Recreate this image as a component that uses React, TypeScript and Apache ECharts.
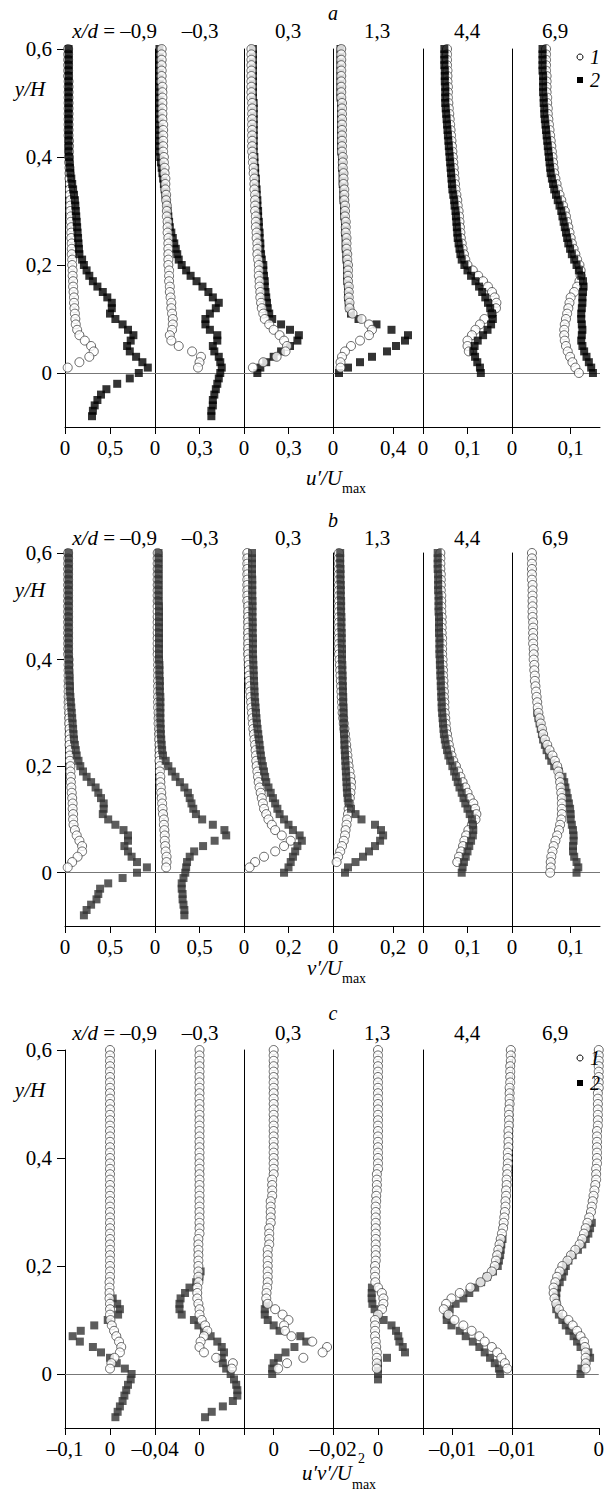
import React, { useEffect, useRef } from 'react';
import * as echarts from 'echarts';

// ---------- measurement levels (y/H), from top to bottom ----------
const Y_LEVELS = [
  0.60, 0.59, 0.58, 0.57, 0.56, 0.55, 0.54, 0.53, 0.52, 0.51,
  0.50, 0.49, 0.48, 0.47, 0.46, 0.45, 0.44, 0.43, 0.42, 0.41,
  0.40, 0.39, 0.38, 0.37, 0.36, 0.35, 0.34, 0.33, 0.32, 0.31,
  0.30, 0.29, 0.28, 0.27, 0.26, 0.25, 0.24, 0.23, 0.22, 0.21,
  0.20, 0.19, 0.18, 0.17, 0.16, 0.15, 0.14, 0.13, 0.12, 0.11,
  0.10, 0.09, 0.08, 0.07, 0.06, 0.05, 0.04, 0.03, 0.02, 0.01,
  0.00, -0.01, -0.02, -0.03, -0.04, -0.05, -0.06, -0.07, -0.08,
];
const Y_TICKS = [0, 0.2, 0.4, 0.6];
const STATIONS = ['–0,9', '–0,3', '0,3', '1,3', '4,4', '6,9'];

// ---------- panel a : u'/Umax ----------
const A1_CIRCLES = [
  0.035, 0.035, 0.035, 0.035, 0.035, 0.035, 0.04, 0.04, 0.04, 0.04,
  0.04, 0.04, 0.04, 0.04, 0.04, 0.04, 0.04, 0.045, 0.045, 0.045,
  0.045, 0.045, 0.05, 0.05, 0.05, 0.055, 0.055, 0.055, 0.06, 0.06,
  0.06, 0.065, 0.065, 0.07, 0.07, 0.07, 0.075, 0.075, 0.075, 0.08,
  0.08, 0.085, 0.085, 0.09, 0.09, 0.095, 0.10, 0.10, 0.105, 0.11,
  0.115, 0.12, 0.135, 0.16, 0.22, 0.29, 0.32, 0.27, 0.16, 0.03];
const A1_SQUARES = [
  0.04, 0.04, 0.04, 0.04, 0.04, 0.04, 0.04, 0.04, 0.04, 0.04,
  0.04, 0.04, 0.04, 0.04, 0.04, 0.04, 0.04, 0.04, 0.04, 0.04,
  0.045, 0.05, 0.055, 0.06, 0.07, 0.08, 0.09, 0.10, 0.11, 0.115,
  0.12, 0.125, 0.13, 0.135, 0.14, 0.145, 0.15, 0.155, 0.16, 0.19,
  0.21, 0.24, 0.27, 0.31, 0.36, 0.42, 0.47, 0.52, 0.52, 0.50,
  0.56, 0.64, 0.70, 0.76, 0.73, 0.69, 0.72, 0.79, 0.86, 0.92,
  0.82, 0.72, 0.58, 0.46, 0.40, 0.36, 0.33, 0.31, 0.30];
const A2_CIRCLES = [
  0.045, 0.045, 0.045, 0.045, 0.045, 0.045, 0.045, 0.05, 0.05, 0.05,
  0.05, 0.05, 0.05, 0.05, 0.055, 0.055, 0.055, 0.055, 0.055, 0.055,
  0.06, 0.06, 0.065, 0.065, 0.07, 0.07, 0.07, 0.075, 0.075, 0.08,
  0.08, 0.08, 0.085, 0.085, 0.085, 0.09, 0.09, 0.09, 0.09, 0.09,
  0.09, 0.095, 0.095, 0.095, 0.10, 0.10, 0.105, 0.11, 0.11, 0.115,
  0.12, 0.12, 0.115, 0.10, 0.11, 0.16, 0.25, 0.31, 0.30, 0.29];
const A2_SQUARES = [
  0.03, 0.03, 0.03, 0.03, 0.03, 0.03, 0.03, 0.03, 0.03, 0.03,
  0.03, 0.03, 0.03, 0.03, 0.03, 0.03, 0.03, 0.03, 0.03, 0.03,
  0.035, 0.04, 0.045, 0.05, 0.055, 0.06, 0.065, 0.07, 0.075, 0.08,
  0.085, 0.09, 0.095, 0.10, 0.11, 0.12, 0.13, 0.14, 0.15, 0.16,
  0.18, 0.21, 0.24, 0.28, 0.32, 0.36, 0.39, 0.43, 0.41, 0.37,
  0.34, 0.34, 0.37, 0.42, 0.42, 0.39, 0.40, 0.43, 0.44, 0.45,
  0.44, 0.43, 0.42, 0.41, 0.40, 0.39, 0.39, 0.38, 0.38];
const A3_CIRCLES = [
  0.05, 0.05, 0.05, 0.05, 0.05, 0.05, 0.05, 0.05, 0.05, 0.05,
  0.055, 0.055, 0.055, 0.055, 0.055, 0.055, 0.055, 0.055, 0.055, 0.055,
  0.06, 0.06, 0.065, 0.065, 0.07, 0.07, 0.07, 0.075, 0.075, 0.075,
  0.075, 0.08, 0.08, 0.08, 0.085, 0.085, 0.09, 0.09, 0.09, 0.095,
  0.10, 0.10, 0.10, 0.105, 0.105, 0.11, 0.11, 0.115, 0.12, 0.13,
  0.14, 0.17, 0.20, 0.24, 0.27, 0.29, 0.28, 0.22, 0.13, 0.06];
const A3_SQUARES = [
  0.06, 0.06, 0.06, 0.06, 0.06, 0.06, 0.06, 0.06, 0.06, 0.06,
  0.065, 0.065, 0.065, 0.065, 0.065, 0.065, 0.065, 0.065, 0.065, 0.065,
  0.07, 0.07, 0.075, 0.075, 0.08, 0.08, 0.085, 0.085, 0.09, 0.09,
  0.095, 0.095, 0.10, 0.10, 0.105, 0.105, 0.11, 0.11, 0.115, 0.12,
  0.13, 0.13, 0.135, 0.14, 0.14, 0.145, 0.15, 0.155, 0.16, 0.17,
  0.19, 0.25, 0.31, 0.37, 0.36, 0.31, 0.25, 0.20, 0.15, 0.11,
  0.09];
const A4_CIRCLES = [
  0.055, 0.055, 0.055, 0.055, 0.055, 0.055, 0.055, 0.055, 0.055, 0.055,
  0.06, 0.06, 0.06, 0.06, 0.06, 0.06, 0.06, 0.06, 0.06, 0.06,
  0.065, 0.065, 0.065, 0.07, 0.07, 0.07, 0.075, 0.075, 0.075, 0.08,
  0.08, 0.08, 0.085, 0.085, 0.085, 0.09, 0.09, 0.09, 0.095, 0.095,
  0.10, 0.10, 0.10, 0.10, 0.105, 0.105, 0.105, 0.11, 0.11, 0.13,
  0.19, 0.24, 0.26, 0.24, 0.18, 0.12, 0.08, 0.06, 0.05, 0.05];
const A4_SQUARES = [
  0.05, 0.05, 0.05, 0.05, 0.05, 0.05, 0.05, 0.05, 0.05, 0.05,
  0.055, 0.055, 0.055, 0.055, 0.055, 0.055, 0.055, 0.055, 0.055, 0.055,
  0.06, 0.06, 0.06, 0.065, 0.065, 0.065, 0.07, 0.07, 0.07, 0.075,
  0.075, 0.075, 0.08, 0.08, 0.08, 0.085, 0.085, 0.085, 0.09, 0.09,
  0.095, 0.095, 0.095, 0.095, 0.10, 0.10, 0.10, 0.105, 0.11, 0.12,
  0.17, 0.29, 0.39, 0.50, 0.48, 0.42, 0.36, 0.26, 0.18, 0.10,
  0.04];
const A5_CIRCLES = [
  0.054, 0.054, 0.054, 0.054, 0.055, 0.055, 0.055, 0.056, 0.056, 0.056,
  0.057, 0.058, 0.059, 0.06, 0.061, 0.062, 0.063, 0.064, 0.065, 0.066,
  0.067, 0.068, 0.069, 0.07, 0.071, 0.072, 0.073, 0.075, 0.077, 0.078,
  0.08, 0.081, 0.082, 0.083, 0.084, 0.085, 0.087, 0.089, 0.092, 0.095,
  0.10, 0.112, 0.124, 0.135, 0.146, 0.155, 0.161, 0.165, 0.164, 0.155,
  0.138, 0.128, 0.118, 0.11, 0.10, 0.10, 0.103];
const A5_SQUARES = [
  0.048, 0.048, 0.048, 0.048, 0.049, 0.049, 0.049, 0.05, 0.05, 0.05,
  0.05, 0.051, 0.052, 0.053, 0.054, 0.055, 0.056, 0.057, 0.058, 0.059,
  0.06, 0.061, 0.062, 0.063, 0.064, 0.065, 0.066, 0.068, 0.07, 0.071,
  0.073, 0.074, 0.075, 0.076, 0.077, 0.078, 0.08, 0.082, 0.084, 0.087,
  0.093, 0.10, 0.108, 0.118, 0.126, 0.133, 0.14, 0.146, 0.151, 0.155,
  0.157, 0.153, 0.145, 0.135, 0.123, 0.116, 0.113, 0.117, 0.122, 0.128,
  0.13];
const A6_CIRCLES = [
  0.058, 0.058, 0.058, 0.058, 0.058, 0.059, 0.059, 0.059, 0.059, 0.06,
  0.06, 0.061, 0.061, 0.062, 0.063, 0.064, 0.065, 0.066, 0.067, 0.068,
  0.069, 0.07, 0.071, 0.072, 0.074, 0.076, 0.078, 0.081, 0.084, 0.087,
  0.09, 0.092, 0.094, 0.096, 0.098, 0.10, 0.102, 0.105, 0.108, 0.111,
  0.115, 0.117, 0.117, 0.115, 0.111, 0.106, 0.10, 0.098, 0.096, 0.094,
  0.092, 0.09, 0.089, 0.089, 0.09, 0.092, 0.095, 0.099, 0.103, 0.108,
  0.114];
const A6_SQUARES = [
  0.052, 0.052, 0.052, 0.052, 0.052, 0.053, 0.053, 0.053, 0.053, 0.054,
  0.054, 0.055, 0.055, 0.056, 0.057, 0.058, 0.059, 0.06, 0.061, 0.062,
  0.063, 0.064, 0.065, 0.066, 0.068, 0.07, 0.072, 0.075, 0.078, 0.081,
  0.084, 0.086, 0.088, 0.09, 0.092, 0.094, 0.096, 0.099, 0.102, 0.106,
  0.11, 0.114, 0.118, 0.121, 0.122, 0.121, 0.12, 0.12, 0.119, 0.118,
  0.118, 0.119, 0.12, 0.119, 0.118, 0.12, 0.123, 0.127, 0.131, 0.135,
  0.138];

// ---------- panel b : v'/Umax ----------
const B1_CIRCLES = [
  0.035, 0.035, 0.035, 0.035, 0.035, 0.035, 0.035, 0.035, 0.035, 0.035,
  0.035, 0.035, 0.035, 0.035, 0.035, 0.035, 0.035, 0.035, 0.035, 0.035,
  0.04, 0.04, 0.04, 0.04, 0.04, 0.04, 0.04, 0.04, 0.04, 0.04,
  0.045, 0.045, 0.045, 0.05, 0.05, 0.05, 0.05, 0.055, 0.055, 0.055,
  0.06, 0.06, 0.065, 0.065, 0.07, 0.075, 0.08, 0.085, 0.085, 0.09,
  0.09, 0.095, 0.11, 0.13, 0.16, 0.19, 0.19, 0.14, 0.08, 0.03];
const B1_SQUARES = [
  0.04, 0.04, 0.04, 0.04, 0.04, 0.04, 0.04, 0.04, 0.04, 0.04,
  0.04, 0.04, 0.04, 0.04, 0.04, 0.04, 0.04, 0.04, 0.04, 0.04,
  0.045, 0.045, 0.045, 0.05, 0.05, 0.055, 0.055, 0.06, 0.065, 0.07,
  0.075, 0.08, 0.085, 0.09, 0.095, 0.10, 0.11, 0.12, 0.13, 0.15,
  0.17, 0.20, 0.24, 0.29, 0.34, 0.37, 0.40, 0.43, 0.43, 0.42,
  0.48, 0.56, 0.65, 0.70, 0.70, 0.66, 0.70, 0.74, 0.80, 0.91,
  0.80, 0.64, 0.48, 0.39, 0.37, 0.35, 0.29, 0.24, 0.21];
const B2_CIRCLES = [
  0.03, 0.03, 0.03, 0.03, 0.03, 0.03, 0.03, 0.03, 0.03, 0.03,
  0.03, 0.03, 0.03, 0.03, 0.03, 0.03, 0.03, 0.03, 0.03, 0.03,
  0.035, 0.035, 0.035, 0.035, 0.035, 0.035, 0.035, 0.035, 0.035, 0.035,
  0.04, 0.04, 0.04, 0.045, 0.045, 0.045, 0.05, 0.05, 0.05, 0.05,
  0.055, 0.055, 0.06, 0.06, 0.065, 0.07, 0.075, 0.08, 0.085, 0.09,
  0.10, 0.10, 0.105, 0.11, 0.11, 0.115, 0.12, 0.13, 0.13, 0.125];
const B2_SQUARES = [
  0.04, 0.04, 0.04, 0.04, 0.04, 0.04, 0.04, 0.04, 0.04, 0.04,
  0.045, 0.045, 0.045, 0.045, 0.045, 0.045, 0.045, 0.045, 0.045, 0.045,
  0.045, 0.05, 0.05, 0.05, 0.055, 0.055, 0.055, 0.06, 0.06, 0.06,
  0.06, 0.06, 0.062, 0.064, 0.066, 0.07, 0.075, 0.08, 0.09, 0.12,
  0.15, 0.19, 0.23, 0.28, 0.33, 0.37, 0.39, 0.41, 0.43, 0.46,
  0.53, 0.65, 0.78, 0.80, 0.67, 0.54, 0.44, 0.39, 0.36, 0.35,
  0.34, 0.32, 0.30, 0.30, 0.31, 0.31, 0.32, 0.33, 0.33];
const B3_CIRCLES = [
  0.015, 0.015, 0.015, 0.015, 0.015, 0.015, 0.015, 0.015, 0.015, 0.015,
  0.018, 0.018, 0.018, 0.018, 0.018, 0.018, 0.018, 0.018, 0.018, 0.018,
  0.02, 0.021, 0.022, 0.023, 0.024, 0.026, 0.028, 0.03, 0.032, 0.034,
  0.036, 0.038, 0.04, 0.042, 0.045, 0.047, 0.05, 0.052, 0.054, 0.055,
  0.057, 0.06, 0.063, 0.066, 0.07, 0.075, 0.08, 0.085, 0.09, 0.10,
  0.11, 0.125, 0.14, 0.17, 0.21, 0.18, 0.14, 0.09, 0.05, 0.025];
const B3_SQUARES = [
  0.036, 0.036, 0.036, 0.036, 0.036, 0.037, 0.037, 0.037, 0.037, 0.038,
  0.038, 0.038, 0.038, 0.039, 0.039, 0.039, 0.04, 0.04, 0.04, 0.04,
  0.041, 0.042, 0.043, 0.044, 0.045, 0.046, 0.047, 0.048, 0.05, 0.052,
  0.054, 0.056, 0.058, 0.061, 0.064, 0.067, 0.07, 0.073, 0.076, 0.08,
  0.085, 0.09, 0.095, 0.10, 0.11, 0.12, 0.13, 0.14, 0.15, 0.16,
  0.18, 0.20, 0.22, 0.25, 0.26, 0.24, 0.23, 0.22, 0.21, 0.20,
  0.18];
const B4_CIRCLES = [
  0.02, 0.02, 0.02, 0.02, 0.02, 0.02, 0.02, 0.02, 0.02, 0.02,
  0.02, 0.02, 0.02, 0.02, 0.02, 0.02, 0.02, 0.02, 0.02, 0.02,
  0.022, 0.023, 0.024, 0.025, 0.026, 0.027, 0.028, 0.029, 0.03, 0.031,
  0.032, 0.034, 0.036, 0.038, 0.04, 0.042, 0.044, 0.046, 0.048, 0.05,
  0.052, 0.055, 0.058, 0.06, 0.06, 0.058, 0.056, 0.054, 0.052, 0.05,
  0.047, 0.045, 0.042, 0.04, 0.036, 0.03, 0.024, 0.017, 0.012];
const B4_SQUARES = [
  0.024, 0.024, 0.024, 0.025, 0.025, 0.025, 0.026, 0.026, 0.026, 0.027,
  0.027, 0.027, 0.028, 0.028, 0.028, 0.029, 0.029, 0.029, 0.03, 0.03,
  0.03, 0.031, 0.031, 0.032, 0.032, 0.033, 0.033, 0.034, 0.034, 0.035,
  0.035, 0.035, 0.036, 0.036, 0.037, 0.038, 0.038, 0.039, 0.04, 0.041,
  0.042, 0.043, 0.044, 0.045, 0.046, 0.047, 0.049, 0.053, 0.06, 0.075,
  0.095, 0.14, 0.16, 0.167, 0.157, 0.14, 0.12, 0.10, 0.075, 0.05,
  0.04];
const B5_CIRCLES = [
  0.039, 0.039, 0.039, 0.039, 0.04, 0.04, 0.04, 0.04, 0.041, 0.041,
  0.041, 0.041, 0.042, 0.042, 0.042, 0.042, 0.043, 0.043, 0.043, 0.043,
  0.044, 0.044, 0.045, 0.045, 0.046, 0.046, 0.047, 0.047, 0.048, 0.048,
  0.049, 0.05, 0.051, 0.052, 0.054, 0.056, 0.058, 0.061, 0.064, 0.068,
  0.074, 0.079, 0.084, 0.089, 0.095, 0.10, 0.105, 0.113, 0.117, 0.12,
  0.118, 0.11, 0.102, 0.097, 0.093, 0.09, 0.086, 0.081, 0.077];
const B5_SQUARES = [
  0.033, 0.033, 0.033, 0.033, 0.034, 0.034, 0.034, 0.034, 0.035, 0.035,
  0.035, 0.035, 0.036, 0.036, 0.036, 0.036, 0.037, 0.037, 0.037, 0.037,
  0.038, 0.038, 0.039, 0.039, 0.04, 0.04, 0.041, 0.041, 0.042, 0.042,
  0.043, 0.044, 0.045, 0.046, 0.047, 0.049, 0.051, 0.054, 0.057, 0.061,
  0.066, 0.07, 0.074, 0.078, 0.082, 0.087, 0.091, 0.095, 0.10, 0.105,
  0.11, 0.112, 0.113, 0.112, 0.108, 0.104, 0.10, 0.096, 0.092, 0.089,
  0.087];
const B6_CIRCLES = [
  0.034, 0.034, 0.034, 0.034, 0.034, 0.034, 0.035, 0.035, 0.035, 0.035,
  0.035, 0.035, 0.035, 0.036, 0.036, 0.036, 0.036, 0.036, 0.037, 0.037,
  0.037, 0.038, 0.038, 0.039, 0.039, 0.04, 0.041, 0.042, 0.043, 0.044,
  0.045, 0.047, 0.049, 0.051, 0.053, 0.056, 0.06, 0.064, 0.069, 0.073,
  0.077, 0.079, 0.081, 0.082, 0.083, 0.084, 0.085, 0.085, 0.085, 0.085,
  0.084, 0.082, 0.08, 0.077, 0.074, 0.071, 0.069, 0.067, 0.066, 0.066,
  0.065];
const B6_SQUARES_TOP = 0.30;
const B6_SQUARES = [
  0.043, 0.045, 0.047, 0.049, 0.051, 0.053, 0.056, 0.059, 0.063, 0.067,
  0.072, 0.08, 0.086, 0.089, 0.091, 0.093, 0.095, 0.097, 0.099, 0.10,
  0.10, 0.102, 0.104, 0.105, 0.105, 0.104, 0.104, 0.106, 0.11, 0.113,
  0.11];

// ---------- panel c : u'v'/Umax^2 ----------
const C1_CIRCLES = [
  0, 0, 0, 0, 0, 0, 0, 0, 0, 0,
  0, 0, 0, 0, 0, 0, 0, 0, 0, 0,
  0, 0, 0, 0, 0, 0, 0, 0, 0, 0,
  0, 0, 0, 0, 0, 0, 0, 0, 0, 0,
  0, 0, 0, -0.001, -0.001, -0.001, -0.001, 0, 0, 0,
  0.001, 0.004, 0.009, 0.014, 0.02, 0.025, 0.022, 0.01, 0.003, 0.0];
const C1_SQUARES_TOP = 0.14;
const C1_SQUARES = [
  0.006, 0.016, 0.022, 0.018, -0.005, -0.035, -0.065, -0.083, -0.067, -0.038,
  -0.02, 0.0, 0.015, 0.033, 0.048, 0.046, 0.04, 0.036, 0.032, 0.028,
  0.022, 0.017, 0.012];
const C2_CIRCLES = [
  0, 0, 0, 0, 0, 0, 0, 0, 0, 0,
  0, 0, 0, 0, 0, 0, 0, 0, 0, 0,
  0, 0, 0, 0, 0, 0, 0, 0, 0, 0,
  0, 0, 0, 0, 0, -0.001, -0.001, -0.001, -0.001, -0.001,
  -0.001, -0.001, -0.001, -0.001, -0.002, -0.002, -0.002, -0.001, 0.0, 0.0,
  0.002, 0.005, 0.007, 0.004, 0.001, 0.0, 0.004, 0.015, 0.03, 0.029];
const C2_SQUARES_TOP = 0.19;
const C2_SQUARES = [
  0.001, 0.0, -0.003, -0.009, -0.013, -0.017, -0.018, -0.018, -0.016, -0.005,
  -0.001, 0.004, 0.01, 0.016, 0.02, 0.022, 0.02, 0.021, 0.024, 0.028,
  0.031, 0.033, 0.034, 0.034, 0.03, 0.021, 0.011, 0.005];
const C3_CIRCLES = [
  0, 0, 0, 0, 0, 0, 0, 0, 0, 0,
  0, 0, 0, 0, 0, 0, 0, 0, 0, 0,
  0, 0, 0, 0, -0.0005, -0.0005, -0.0005, -0.0005, -0.001, -0.001,
  -0.001, -0.001, -0.001, -0.0015, -0.0015, -0.0015, -0.0015, -0.002, -0.002, -0.002,
  -0.002, -0.002, -0.002, -0.002, -0.0022, -0.0024, -0.0025, -0.002, 0.0005, 0.003,
  0.005, 0.0035, 0.0038, 0.006, 0.013, 0.018, 0.0165, 0.01, 0.0045, 0.0015];
const C3_SQUARES_TOP = 0.13;
const C3_SQUARES = [
  -0.0025, -0.003, -0.003, -0.002, 0.0, 0.002, 0.009, 0.011, 0.007, 0.004,
  0.0015, 0.0, -0.0005, -0.0005];
const C4_CIRCLES = [
  0, 0, 0, 0, 0, 0, 0, 0, 0, 0,
  0, 0, 0, 0, 0, 0, 0, 0, 0, 0,
  0, 0, 0, -0.0005, -0.0005, -0.0005, -0.0005, -0.0008, -0.0008, -0.001,
  -0.001, -0.001, -0.001, -0.001, -0.001, -0.001, -0.001, -0.001, -0.001, -0.001,
  -0.0013, -0.0013, -0.0013, -0.0012, 0.0, 0.0017, 0.0024, 0.0024, 0.0018, 0.0,
  -0.0013, -0.0013, -0.0013, -0.0013, -0.001, -0.0008, -0.0005, -0.0005, -0.0005, -0.0005];
const C4_SQUARES_TOP = 0.16;
const C4_SQUARES = [
  -0.0027, -0.0028, -0.0028, -0.0025, -0.0015, 0.0, 0.0025, 0.006, 0.008, 0.009,
  0.0095, 0.011, 0.012, 0.004, 0.0, 0.0, 0.0, 0.0];
const C5_CIRCLES = [
  -0.0002, -0.0002, -0.0002, -0.0003, -0.0003, -0.0003, -0.0003, -0.0004, -0.0004, -0.0004,
  -0.0004, -0.0005, -0.0005, -0.0005, -0.0005, -0.0006, -0.0006, -0.0006, -0.0006, -0.0007,
  -0.0007, -0.0007, -0.0008, -0.0008, -0.0009, -0.0009, -0.001, -0.001, -0.0011, -0.0011,
  -0.0012, -0.0013, -0.0014, -0.0015, -0.0017, -0.0019, -0.0021, -0.0023, -0.0025, -0.0027,
  -0.0029, -0.0034, -0.0042, -0.0053, -0.007, -0.0088, -0.0102, -0.0111, -0.0115, -0.0107,
  -0.0097, -0.0082, -0.0068, -0.0055, -0.0046, -0.0034, -0.0025, -0.0018, -0.0012, -0.0008];
const C5_SQUARES_TOP = 0.25;
const C5_SQUARES = [
  -0.0016, -0.0018, -0.0019, -0.002, -0.0022, -0.0024, -0.0032, -0.0042, -0.0052, -0.0062,
  -0.0072, -0.0082, -0.0095, -0.0105, -0.011, -0.011, -0.0102, -0.0088, -0.0078, -0.0066,
  -0.0055, -0.0046, -0.0037, -0.0029, -0.0022, -0.002];
const C6_CIRCLES = [
  0, 0, 0, 0, 0, 0, 0, 0, -0.0001, -0.0001,
  -0.0001, -0.0001, -0.0001, -0.0001, -0.0001, -0.0002, -0.0002, -0.0002, -0.0002, -0.0002,
  -0.0002, -0.0002, -0.0003, -0.0003, -0.0003, -0.0004, -0.0005, -0.0006, -0.0007, -0.0008,
  -0.0009, -0.0011, -0.0013, -0.0015, -0.0017, -0.0019, -0.0022, -0.0027, -0.0032, -0.0036,
  -0.0042, -0.0045, -0.0048, -0.005, -0.0052, -0.0052, -0.0051, -0.0049, -0.0046, -0.0042,
  -0.0035, -0.003, -0.0025, -0.0021, -0.0017, -0.0016, -0.0015, -0.0015, -0.0015, -0.0015];
const C6_SQUARES_TOP = 0.28;
const C6_SQUARES = [
  -0.0008, -0.001, -0.0012, -0.0015, -0.0019, -0.0024, -0.003, -0.0035, -0.0038, -0.004,
  -0.0042, -0.0045, -0.0048, -0.0049, -0.0049, -0.0049, -0.0049, -0.0046, -0.0042, -0.0038,
  -0.0034, -0.0029, -0.0025, -0.0021, -0.0012, -0.001, -0.0015, -0.002, -0.0021];

// ---------- axis ranges & ticks per column ----------
const A_RANGES = [[0, 1], [0, 0.6], [0, 0.6], [0, 0.6], [0, 0.2], [0, 0.15]];
const A_TICKS = [[0, 0.5], [0, 0.3], [0, 0.3], [0, 0.4], [0, 0.1], [0, 0.1]];
const B_RANGES = [[0, 1], [0, 1], [0, 0.4], [0, 0.3], [0, 0.2], [0, 0.15]];
const B_TICKS = [[0, 0.5], [0, 0.5], [0, 0.2], [0, 0.2], [0, 0.1], [0, 0.1]];
const C_RANGES = [[-0.1, 0.1], [-0.04, 0.04], [-0.01, 0.02], [-0.02, 0.02], [-0.015, 0], [-0.01, 0]];
const C_TICKS = [[-0.1, 0], [-0.04, 0], [-0.01, 0], [-0.02, 0], [-0.015, -0.01], [-0.01, 0]];
const C_LABELS = [[-0.1, 0], [-0.04, 0], [0], [-0.02, 0], [-0.01], [-0.01, 0]];

// ---------- layout ----------
const SERIF = 'Liberation Serif, Times New Roman, serif';
const COL_LEFTS = [65, 155, 244, 333, 423, 512];
const COL_RIGHT = 600;
const PANEL_TOPS = [49, 553, 1050];
const PANEL_BOTTOMS = [427, 926, 1428];

function profile(values: number[], top: number) {
  const start = Y_LEVELS.findIndex((y) => Math.abs(y - top) < 1e-9);
  return values.map((x, i) => [x, Y_LEVELS[start + i]]);
}

function fmt(v: number) {
  const r = Math.round(Number(v) * 10000) / 10000;
  const s = String(Math.abs(r)).replace('.', ',');
  return (r < 0 ? '–' : '') + s;
}

function buildOption() {
  const panels = [
    {
      ranges: A_RANGES, ticks: A_TICKS, labels: A_TICKS, squareColor: '#000',
      circlesOnTop: [false, true, true, true, false, false],
      profiles: [
        [profile(A1_CIRCLES, 0.6), profile(A1_SQUARES, 0.6)],
        [profile(A2_CIRCLES, 0.6), profile(A2_SQUARES, 0.6)],
        [profile(A3_CIRCLES, 0.6), profile(A3_SQUARES, 0.6)],
        [profile(A4_CIRCLES, 0.6), profile(A4_SQUARES, 0.6)],
        [profile(A5_CIRCLES, 0.6), profile(A5_SQUARES, 0.6)],
        [profile(A6_CIRCLES, 0.6), profile(A6_SQUARES, 0.6)],
      ],
    },
    {
      ranges: B_RANGES, ticks: B_TICKS, labels: B_TICKS, squareColor: '#333',
      circlesOnTop: [false, false, false, false, false, true],
      profiles: [
        [profile(B1_CIRCLES, 0.6), profile(B1_SQUARES, 0.6)],
        [profile(B2_CIRCLES, 0.6), profile(B2_SQUARES, 0.6)],
        [profile(B3_CIRCLES, 0.6), profile(B3_SQUARES, 0.6)],
        [profile(B4_CIRCLES, 0.6), profile(B4_SQUARES, 0.6)],
        [profile(B5_CIRCLES, 0.6), profile(B5_SQUARES, 0.6)],
        [profile(B6_CIRCLES, 0.6), profile(B6_SQUARES, B6_SQUARES_TOP)],
      ],
    },
    {
      ranges: C_RANGES, ticks: C_TICKS, labels: C_LABELS, squareColor: '#333',
      circlesOnTop: [true, true, true, true, true, true],
      profiles: [
        [profile(C1_CIRCLES, 0.6), profile(C1_SQUARES, C1_SQUARES_TOP)],
        [profile(C2_CIRCLES, 0.6), profile(C2_SQUARES, C2_SQUARES_TOP)],
        [profile(C3_CIRCLES, 0.6), profile(C3_SQUARES, C3_SQUARES_TOP)],
        [profile(C4_CIRCLES, 0.6), profile(C4_SQUARES, C4_SQUARES_TOP)],
        [profile(C5_CIRCLES, 0.6), profile(C5_SQUARES, C5_SQUARES_TOP)],
        [profile(C6_CIRCLES, 0.6), profile(C6_SQUARES, C6_SQUARES_TOP)],
      ],
    },
  ];

  const grid: any[] = [];
  const xAxis: any[] = [];
  const yAxis: any[] = [];
  const series: any[] = [];
  const axisLineStyle = { color: '#000', width: 1 };
  const labelFont = { fontFamily: SERIF, fontSize: 21, color: '#000' };

  panels.forEach((p, pi) => {
    for (let k = 0; k < 6; k++) {
      const gi = pi * 6 + k;
      const left = COL_LEFTS[k];
      const right = k < 5 ? COL_LEFTS[k + 1] : COL_RIGHT;
      grid.push({ left, top: PANEL_TOPS[pi], width: right - left, height: PANEL_BOTTOMS[pi] - PANEL_TOPS[pi] });
      xAxis.push({
        gridIndex: gi, type: 'value', min: p.ranges[k][0], max: p.ranges[k][1], position: 'bottom',
        axisLine: { show: true, onZero: false, lineStyle: axisLineStyle },
        axisTick: { show: true, customValues: p.ticks[k], length: 7, lineStyle: axisLineStyle },
        axisLabel: { show: true, customValues: p.labels[k], formatter: fmt, margin: 10, ...labelFont },
        splitLine: { show: false },
      });
      yAxis.push({
        gridIndex: gi, type: 'value', min: -0.1, max: 0.6,
        axisLine: { show: true, onZero: false, lineStyle: axisLineStyle },
        axisTick: { show: k === 0, customValues: Y_TICKS, length: 8, lineStyle: axisLineStyle },
        axisLabel: { show: k === 0, customValues: Y_TICKS, formatter: fmt, margin: 13, ...labelFont },
        splitLine: { show: false },
      });
      const [circles, squares] = p.profiles[k];
      const top = p.circlesOnTop[k];
      series.push({
        type: 'line', xAxisIndex: gi, yAxisIndex: gi, data: [], z: 1, silent: true,
        markLine: {
          silent: true, symbol: ['none', 'none'], label: { show: false }, z: 1,
          lineStyle: { color: '#777', width: 1, type: 'solid' },
          data: [{ yAxis: 0 }],
        },
      });
      series.push({
        type: 'scatter', xAxisIndex: gi, yAxisIndex: gi, data: squares, symbol: 'rect', symbolSize: 8,
        itemStyle: { color: p.squareColor }, z: top ? 2 : 3, clip: false, silent: true,
      });
      series.push({
        type: 'scatter', xAxisIndex: gi, yAxisIndex: gi, data: circles, symbol: 'circle', symbolSize: 9,
        itemStyle: { color: '#fff', borderColor: '#444', borderWidth: 1 }, z: top ? 3 : 2, clip: false, silent: true,
      });
    }
  });

  const txt = (x: number, y: number, text: string, opts: any = {}) => ({
    type: 'text', x, y, silent: true, z: 10,
    style: {
      text, fill: '#000', fontFamily: SERIF, fontSize: opts.size || 21, fontStyle: opts.italic ? 'italic' : 'normal',
      align: opts.align || 'center', textAlign: opts.align || 'center',
      verticalAlign: 'middle', textVerticalAlign: 'middle', rich: opts.rich,
    },
  });

  const graphic: any[] = [];
  const titleYs = [31, 538, 1033];
  const titleXs = [157, 200, 288, 377, 467, 555];
  const letterYs = [13, 520, 1013];
  const yhYs = [89, 590, 1090];
  const letters = ['a', 'b', 'c'];
  titleYs.forEach((ty, pi) => {
    graphic.push(txt(titleXs[0], ty, '{i|x/d} = ' + STATIONS[0], {
      align: 'right', rich: { i: { fontStyle: 'italic', fontFamily: SERIF, fontSize: 21 } },
    }));
    for (let k = 1; k < 6; k++) graphic.push(txt(titleXs[k], ty, STATIONS[k]));
    graphic.push(txt(333, letterYs[pi], letters[pi], { italic: true, size: 20 }));
    graphic.push(txt(30, yhYs[pi], 'y/H', { italic: true }));
  });
  // axis names
  graphic.push(txt(342, 478, 'u′/U', { italic: true, align: 'right' }));
  graphic.push(txt(342, 488, 'max', { size: 14, align: 'left' }));
  graphic.push(txt(342, 968, 'v′/U', { italic: true, align: 'right' }));
  graphic.push(txt(342, 978, 'max', { size: 14, align: 'left' }));
  graphic.push(txt(352, 1473, 'u′v′/U', { italic: true, align: 'right' }));
  graphic.push(txt(358, 1458, '2', { size: 14, align: 'left' }));
  graphic.push(txt(352, 1484, 'max', { size: 14, align: 'left' }));
  // legends
  const legendYs = [[57, 80], [1058, 1083]];
  legendYs.forEach(([y1, y2]) => {
    graphic.push({ type: 'circle', shape: { cx: 580, cy: y1, r: 3 }, style: { fill: '#fff', stroke: '#000', lineWidth: 1 }, z: 10 });
    graphic.push(txt(590, y1, '1', { italic: true, align: 'left', size: 20 }));
    graphic.push({ type: 'rect', shape: { x: 577, y: y2 - 3, width: 6, height: 6 }, style: { fill: '#000' }, z: 10 });
    graphic.push(txt(590, y2, '2', { italic: true, align: 'left', size: 20 }));
  });

  return { animation: false, backgroundColor: '#fff', grid, xAxis, yAxis, series, graphic };
}

export default function App() {
  const ref = useRef<HTMLDivElement>(null);
  useEffect(() => {
    const chart = echarts.init(ref.current!, undefined, { renderer: 'svg' });
    chart.setOption(buildOption() as any);
    return () => chart.dispose();
  }, []);
  return (
    <div
      ref={ref}
      style={{ position: 'absolute', left: 0, top: 0, width: 607, height: 1497, background: '#fff' }}
    />
  );
}
